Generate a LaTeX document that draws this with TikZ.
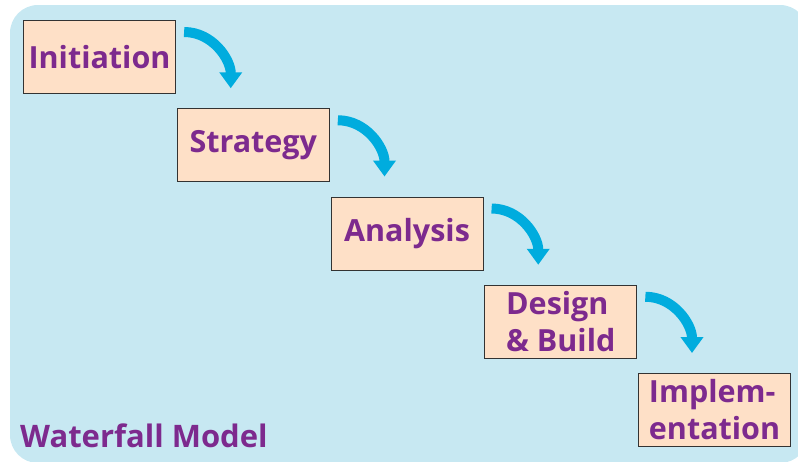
\documentclass[tikz,border=0pt]{standalone}
\usepackage{fontspec}
\setmainfont{Open Sans}
\usepackage{tikz}
\usetikzlibrary{arrows.meta}

\definecolor{sky}{RGB}{199,232,242}
\definecolor{peach}{RGB}{254,224,199}
\definecolor{plum}{RGB}{125,42,142}
\definecolor{flowblue}{RGB}{0,172,222}

\begin{document}
\begin{tikzpicture}[
  x=1pt, y=-1pt,
  stage/.style={draw=black!80, line width=1.1pt, fill=peach, text=plum,
    font=\fontsize{30.5}{37}\selectfont\bfseries, align=left,
    minimum width=152pt, minimum height=73pt, inner sep=0pt, anchor=north west},
  flow/.style={draw=flowblue, line width=10pt,
    -{Triangle[width=22pt, length=16pt]}},
]
  \useasboundingbox (0,0) rectangle (798,461);
  \fill[sky, rounded corners=28pt] (10,5) rectangle (808,463);

  % Stage boxes, node names: st1, st2, ...
  \foreach \t [count=\i] in {Initiation, Strategy, Analysis,
    {Design\\\& Build}, {Implem-\\entation}} {
    \node[stage] (st\i) at ({23+(\i-1)*153.75}, {20+(\i-1)*88.25}) {\t};
  }

  % Curved arrows from one stage down to the next
  \foreach \i [evaluate=\i as \nexti using {int(\i+1)}] in {1, ..., 4} {
    \draw[flow]
      ([shift={(8,12)}]st\i.north east)
      to[out=0, in=90] ([shift={(54,-20)}]st\nexti.north west)
    ;
  }

  \node[text=plum, font=\fontsize{31}{37}\selectfont\bfseries, anchor=base west,
    inner sep=0pt] (title) at (20,447) {Waterfall Model};
\end{tikzpicture}
\end{document}
